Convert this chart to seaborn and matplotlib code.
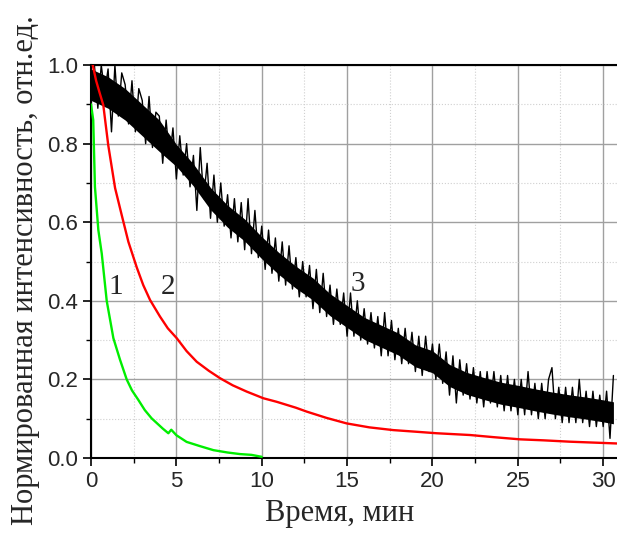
import numpy as np
import pandas as pd
import seaborn as sns
import matplotlib.pyplot as plt
from matplotlib.ticker import MultipleLocator

# curve 1 (green)
green_t = [0, 0.13, 0.23, 0.43, 0.63, 0.92, 1.31, 1.7, 2.09, 2.4, 2.77, 3.15, 3.55, 4.2, 4.53,
           4.7, 5.0, 5.6, 6.4, 7.17, 8.0, 8.73, 9.4, 10.0]
green_y = [0.90, 0.86, 0.69, 0.58, 0.52, 0.40, 0.305, 0.25, 0.20, 0.172, 0.148, 0.122, 0.101, 0.075, 0.063,
           0.072, 0.058, 0.041, 0.030, 0.020, 0.014, 0.010, 0.008, 0.003]

# curve 2 (red)
red_t = [0.1, 0.3, 0.5, 0.72, 1.01, 1.41, 1.80, 2.19, 2.68, 3.06, 3.46, 4.04, 4.5, 5.02, 5.6,
         6.19, 6.9, 7.56, 8.3, 9.12, 10.1, 10.88, 12.0, 12.64, 13.8, 14.98, 16.3, 17.71, 19.0,
         20.25, 22.2, 23.6, 25.13, 26.5, 28.06, 30.8]
red_y = [1.0, 0.96, 0.93, 0.898, 0.796, 0.687, 0.618, 0.55, 0.485, 0.44, 0.402, 0.36, 0.33, 0.305, 0.272,
         0.245, 0.222, 0.203, 0.185, 0.169, 0.152, 0.143, 0.128, 0.118, 0.102, 0.088, 0.078, 0.071, 0.067,
         0.063, 0.0585, 0.053, 0.0475, 0.045, 0.0415, 0.037]

# curve 3 (black, noisy), sampled every 0.2 min
black_t = np.round(np.arange(0, 30.7, 0.2), 1)
black_y = [
    0.90, 1.00, 0.89, 1.00, 0.93,
    0.99, 0.83, 1.00, 0.87, 0.98,
    0.95, 0.85, 0.96, 0.83, 0.94,
    0.91, 0.80, 0.92, 0.79, 0.88,
    0.87, 0.75, 0.86, 0.76, 0.84,
    0.71, 0.82, 0.72, 0.80, 0.69,
    0.77, 0.63, 0.79, 0.66, 0.75,
    0.61, 0.72, 0.60, 0.70, 0.59,
    0.67, 0.56, 0.66, 0.55, 0.65,
    0.53, 0.66, 0.52, 0.63, 0.51,
    0.59, 0.48, 0.58, 0.47, 0.56,
    0.45, 0.55, 0.44, 0.54, 0.43,
    0.51, 0.41, 0.50, 0.41, 0.49,
    0.38, 0.48, 0.37, 0.47, 0.36,
    0.44, 0.34, 0.43, 0.34, 0.42,
    0.31, 0.42, 0.31, 0.40, 0.30,
    0.38, 0.29, 0.37, 0.28, 0.36,
    0.26, 0.37, 0.26, 0.35, 0.25,
    0.33, 0.24, 0.33, 0.24, 0.32,
    0.22, 0.31, 0.21, 0.31, 0.22,
    0.29, 0.20, 0.29, 0.19, 0.27,
    0.16, 0.26, 0.14, 0.25, 0.16,
    0.24, 0.15, 0.23, 0.14, 0.22,
    0.13, 0.22, 0.14, 0.22, 0.13,
    0.21, 0.12, 0.21, 0.12, 0.20,
    0.11, 0.20, 0.11, 0.22, 0.11,
    0.19, 0.10, 0.19, 0.10, 0.20,
    0.23, 0.10, 0.18, 0.09, 0.18,
    0.09, 0.18, 0.09, 0.20, 0.09,
    0.17, 0.08, 0.17, 0.08, 0.16,
    0.08, 0.17, 0.05, 0.21,
]
# dense core of the black band, per minute
core_t = [0, 1, 2, 3, 4, 5, 6, 7, 8, 9, 10, 11, 12, 13, 14, 15, 16, 17, 18, 19, 20,
          21, 22, 23, 24, 25, 26, 27, 28, 29, 30, 30.6]
core_lo = [0.91, 0.89, 0.86, 0.82, 0.78, 0.742, 0.692, 0.632, 0.587, 0.552, 0.507, 0.467, 0.432,
           0.402, 0.362, 0.332, 0.302, 0.282, 0.262, 0.232, 0.217, 0.182, 0.162, 0.149, 0.137,
           0.129, 0.12, 0.112, 0.105, 0.099, 0.092, 0.087]
core_hi = [0.99, 0.97, 0.94, 0.90, 0.86, 0.798, 0.748, 0.688, 0.643, 0.608, 0.563, 0.523, 0.488,
           0.458, 0.418, 0.388, 0.358, 0.338, 0.318, 0.288, 0.273, 0.238, 0.218, 0.205, 0.193,
           0.185, 0.176, 0.168, 0.161, 0.155, 0.148, 0.143]

curve_labels = ["1", "2", "3"]
label_pos = [(1.46, 0.435), (4.51, 0.435), (15.6, 0.443)]

sns.set_style("ticks")
plt.rcParams['font.family'] = ['Liberation Sans', 'DejaVu Sans']

fig = plt.figure(figsize=(6.17, 5.41), dpi=100)
ax = fig.add_axes([0.1475, 0.1534, 0.8525, 0.7264])

ax.fill_between(core_t, core_lo, core_hi, color="black", lw=0, zorder=3)
sns.lineplot(x=black_t, y=black_y, color="black", lw=1.0, ax=ax, zorder=3)
sns.lineplot(x=red_t, y=red_y, color="#ff0000", lw=1.7, ax=ax, zorder=4)
sns.lineplot(x=green_t, y=green_y, color="#00ee00", lw=1.7, ax=ax, zorder=4)

for lab, (x, y) in zip(curve_labels, label_pos):
    ax.text(x, y, lab, fontsize=21, family="Liberation Serif", ha="center", va="center", zorder=5)

ax.set_xlim(0, 30.81)
ax.set_ylim(0, 1.0)
ax.xaxis.set_major_locator(MultipleLocator(5))
ax.xaxis.set_minor_locator(MultipleLocator(2.5))
ax.yaxis.set_major_locator(MultipleLocator(0.2))
ax.yaxis.set_minor_locator(MultipleLocator(0.1))
ax.yaxis.set_major_formatter(plt.FormatStrFormatter('%.1f'))

ax.grid(which="major", color="#a0a0a0", lw=1.0, ls="-")
ax.grid(which="minor", color="#d0d0d0", lw=0.8, ls=":")
ax.set_axisbelow(True)

ax.tick_params(which="major", direction="out", length=6, width=1.2, labelsize=16, color="black")
ax.tick_params(which="minor", direction="out", length=3.5, width=1.0, color="black")

for s in ["left", "bottom", "top"]:
    ax.spines[s].set_color("black")
    ax.spines[s].set_linewidth(1.5)
ax.spines["right"].set_visible(False)

ax.set_xlabel("Время, мин", fontsize=22, family="Liberation Serif")
ax.set_ylabel("Нормированная интенсивность, отн.ед.", fontsize=22, family="Liberation Serif")
ax.xaxis.set_label_coords(0.473, -0.105)
ax.yaxis.set_label_coords(-0.097, 0.478)

fig.savefig("out.png", dpi=100)
